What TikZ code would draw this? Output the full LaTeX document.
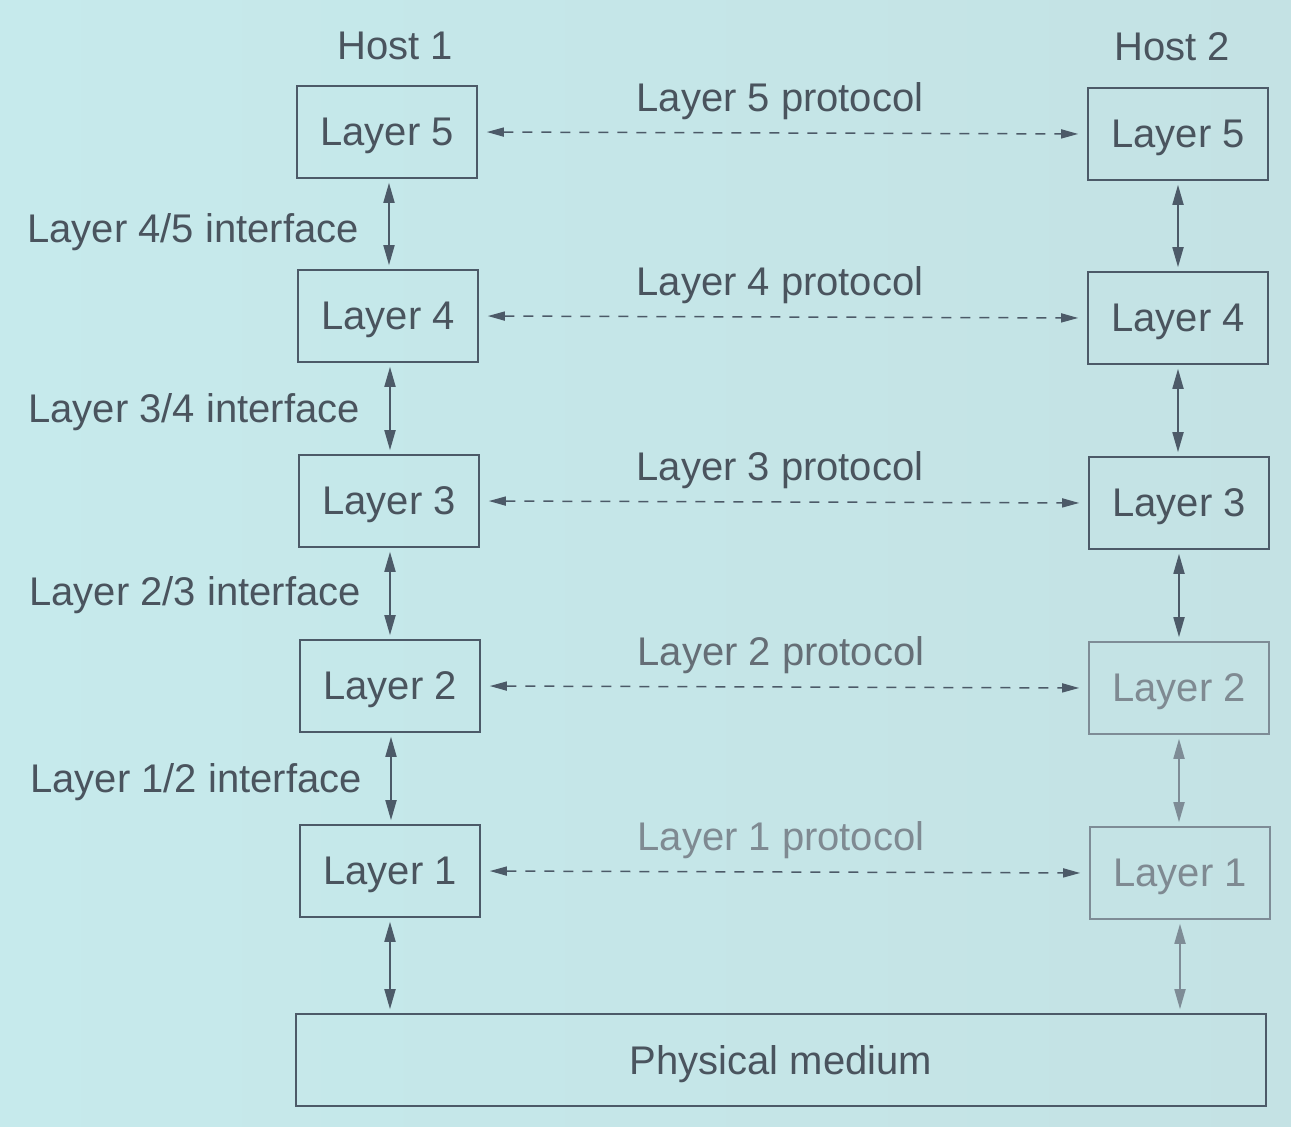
\documentclass[tikz,border=0pt]{standalone}
\usepackage{fontspec}
\setmainfont{Liberation Sans}
\usetikzlibrary{arrows.meta}
\definecolor{bgA}{HTML}{C6EAEC}
\definecolor{bgB}{HTML}{C4E2E4}
\definecolor{ink}{HTML}{4C5A68}
\definecolor{inkL}{HTML}{7E8C96}
\definecolor{txt}{HTML}{4A545E}
\definecolor{txtL}{HTML}{7F8A92}
\tikzset{
  layerbox/.style={draw=ink, line width=1.6pt, minimum width=180pt, minimum height=92pt, inner sep=0pt, text=txt, text depth=0pt, font=\fontsize{40}{46}\selectfont},
  lightbox/.style={layerbox, draw=inkL, text=txtL},
  lbl/.style={text=txt, text depth=0pt, font=\fontsize{40}{46}\selectfont, inner sep=0pt},
  vlink/.style={draw=ink, line width=1.8pt, arrows={Triangle[length=20pt,width=11pt]-Triangle[length=20pt,width=11pt]}, shorten <=4pt, shorten >=4pt},
  vlinkL/.style={vlink, draw=inkL},
  hlink/.style={draw=ink, line width=1.5pt, dash pattern=on 10pt off 9pt, arrows={Triangle[length=17pt,width=9pt]-Triangle[length=17pt,width=9pt]}, shorten <=9pt, shorten >=9pt},
}
\begin{document}
\begin{tikzpicture}[x=1pt,y=-1pt]
\shade[left color=bgA, right color=bgB] (0,0) rectangle (1291,1127);
\useasboundingbox (0,0) rectangle (1291,1127);

\node[lbl] (h1) at (395,46) {Host 1};
\node[lbl] (h2) at (1172,47) {Host 2};

\node[layerbox] (l5) at (387,132) {Layer 5};
\node[layerbox] (l4) at (388,316) {Layer 4};
\node[layerbox] (l3) at (389,501) {Layer 3};
\node[layerbox] (l2) at (390,686) {Layer 2};
\node[layerbox] (l1) at (390,871) {Layer 1};

\node[layerbox] (r5) at (1178,134) {Layer 5};
\node[layerbox] (r4) at (1178,318) {Layer 4};
\node[layerbox] (r3) at (1179,503) {Layer 3};
\node[lightbox] (r2) at (1179,688) {Layer 2};
\node[lightbox] (r1) at (1180,873) {Layer 1};

\node[layerbox, minimum width=970pt, minimum height=92pt] (pm) at (781,1060) {Physical medium};

\foreach \a/\b in {l5/r5,l4/r4,l3/r3,l2/r2,l1/r1}{
  \draw[hlink] (\a.east) -- (\b.west);
}
\node[lbl] (p5) at (780,97) {Layer 5 protocol};
\node[lbl] (p4) at (780,281) {Layer 4 protocol};
\node[lbl] (p3) at (780,466) {Layer 3 protocol};
\node[lbl, text=txt!85!white] (p2) at (781,651) {Layer 2 protocol};
\node[lbl, text=txtL] (p1) at (781,836) {Layer 1 protocol};

\node[lbl, anchor=east] (i45) at (359,228) {Layer 4/5 interface};
\node[lbl, anchor=east] (i34) at (360,408) {Layer 3/4 interface};
\node[lbl, anchor=east] (i23) at (361,591) {Layer 2/3 interface};
\node[lbl, anchor=east] (i12) at (362,778) {Layer 1/2 interface};

\draw[vlink] (l5.south) ++(2,0) coordinate (a1) -- (a1 |- l4.north);
\draw[vlink] (l4.south) ++(2,0) coordinate (a2) -- (a2 |- l3.north);
\draw[vlink] (l3.south) ++(1,0) coordinate (a3) -- (a3 |- l2.north);
\draw[vlink] (l2.south) ++(1,0) coordinate (a4) -- (a4 |- l1.north);
\draw[vlink] (l1.south) -- (l1.south |- pm.north);

\draw[vlink] (r5.south) -- (r5.south |- r4.north);
\draw[vlink] (r4.south) -- (r4.south |- r3.north);
\draw[vlink] (r3.south) -- (r3.south |- r2.north);
\draw[vlinkL] (r2.south) -- (r2.south |- r1.north);
\draw[vlinkL] (r1.south) -- (r1.south |- pm.north);
\end{tikzpicture}
\end{document}
